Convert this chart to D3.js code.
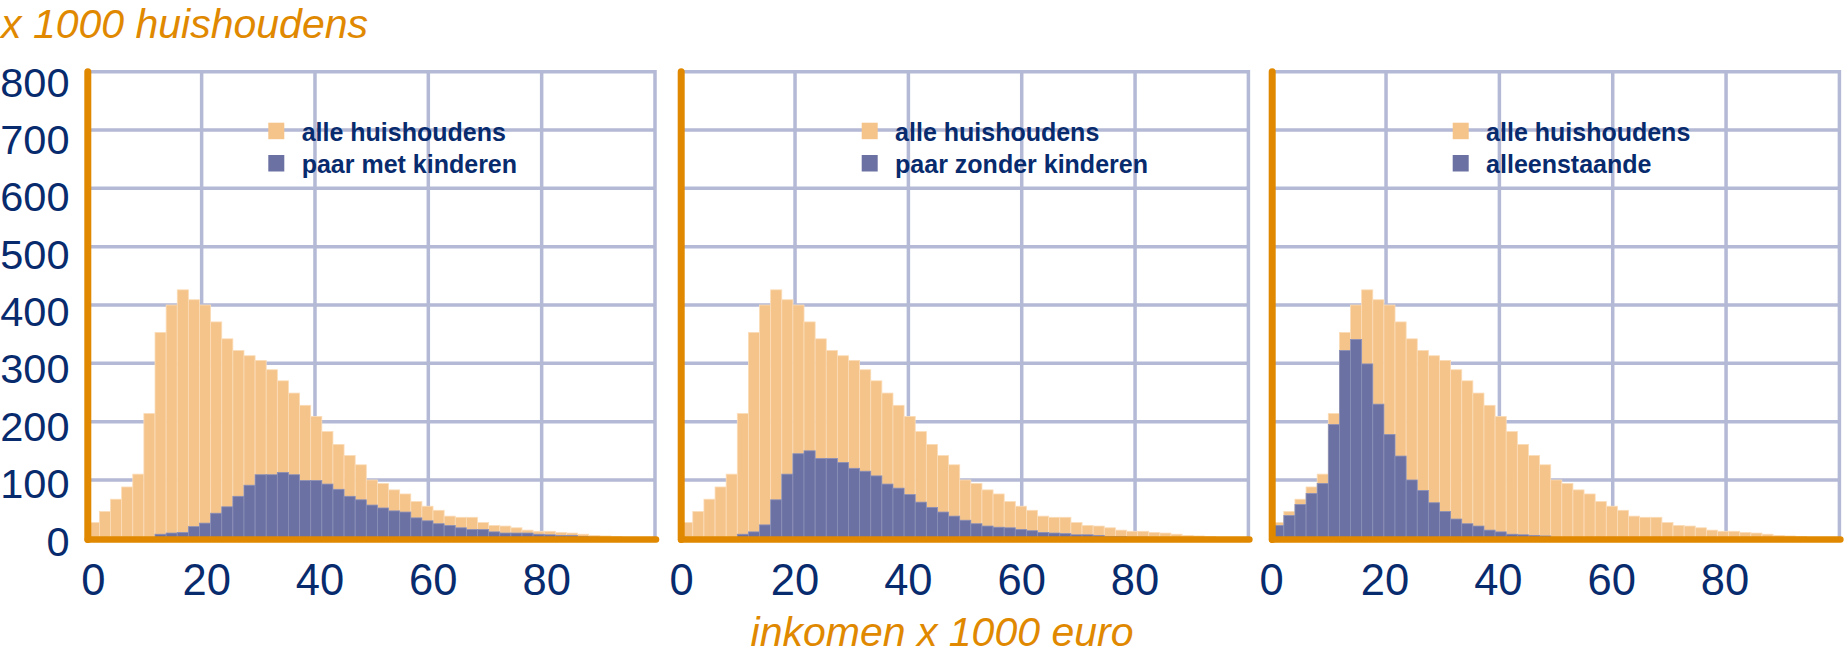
<!DOCTYPE html>
<html>
<head>
<meta charset="utf-8">
<script src="https://cdn.jsdelivr.net/npm/d3@7/dist/d3.min.js"></script>
<style>
  html, body { margin: 0; padding: 0; background: #ffffff; }
  svg { display: block; font-family: "Liberation Sans", Arial, sans-serif; }
</style>
</head>
<body>
<svg id="chart" width="1844" height="655"></svg>
<script>
// ---- data (x 1000 huishoudens per inkomensklasse van 2000 euro) ----
const binStarts = [0,2,4,6,8,10,12,14,16,18,20,22,24,26,28,30,32,34,36,38,40,42,44,46,48,50,52,54,56,58,60,62,64,66,68,70,72,74,76,78,80,82,84,86,88,90,92,94];
const binWidth = 2;
const alleHuishoudens = [27,46,67,88,110,214,353,400,426,409,400,371,342,322,313,305,289,270,249,228,209,183,161,142,126,100,94,83,76,63,55,48,38,36,36,27,22,21,18,14,12,12,10,9,7,5,4,3];
const paarMetKinderen = [0,0,0,0,0,0,7,9,10,20,26,43,54,72,91,109,109,113,109,99,99,93,84,72,66,57,52,47,45,35,30,25,22,18,15,15,11,9,9,9,7,6,5,5,3,2];
const paarZonderKinderen = [0,0,0,0,0,7,11,23,66,110,145,150,137,137,130,120,115,107,93,86,75,62,53,45,38,31,25,21,19,18,15,13,10,9,8,6,6,5,3,3,2,2];
const alleenstaande = [22,39,58,77,94,195,322,341,299,230,178,141,100,82,61,46,33,25,21,14,11,7,6,5,4];
const seriesNames = ["alle huishoudens", "paar met kinderen", "paar zonder kinderen", "alleenstaande"];
const xTicks = [0, 20, 40, 60, 80];
const xGrid = [20, 40, 60, 80, 100];
const yTicks = [0, 100, 200, 300, 400, 500, 600, 700, 800];
const yTitle = "x 1000 huishoudens";
const xTitle = "inkomen x 1000 euro";

// ---- styles ----
const C = {
  light: "#f5c48a", lightStroke: "#fbdcb8",
  dark: "#6b72a3", darkStroke: "#8b90b9",
  grid: "#b4b9d5", axis: "#e08900", navy: "#082b6e", orange: "#e08900"
};

const svg = d3.select("#chart");
const panelLefts = [88.3, 681.7, 1272.7];
const panelW = 566.7;
const xLabelShift = [5, 0, -1];
const barStep = 11.12; // px per bin as drawn in the original

const y = d3.scaleLinear().domain([0, 800]).range([538.3, 71.7]);
const yLabel = d3.scaleLinear().domain([0, 800]).range([555.5, 96.5]);

const panels = [
  { sub: paarMetKinderen, name: seriesNames[1] },
  { sub: paarZonderKinderen, name: seriesNames[2] },
  { sub: alleenstaande, name: seriesNames[3] }
];

panels.forEach((p, pi) => {
  const left = panelLefts[pi];
  const x = d3.scaleLinear().domain([0, 100]).range([left, left + panelW]);
  // bars are laid out on a slightly narrower scale than the grid in the original
  const xb = d3.scaleLinear().domain([0, 100]).range([left, left + barStep * 50]);
  const g = svg.append("g");

  // grid
  g.selectAll(".hg").data(yTicks.filter(d => d > 0)).join("line")
    .attr("x1", x(0)).attr("x2", x(100))
    .attr("y1", d => y(d)).attr("y2", d => y(d))
    .attr("stroke", C.grid).attr("stroke-width", 3.5);
  g.selectAll(".vg").data(xGrid).join("line")
    .attr("x1", d => x(d)).attr("x2", d => x(d))
    .attr("y1", y(800) - 1.75).attr("y2", y(0))
    .attr("stroke", C.grid).attr("stroke-width", 3.5);

  // all households
  g.append("g").selectAll("rect").data(alleHuishoudens).join("rect")
    .attr("x", (d, i) => xb(binStarts[i]))
    .attr("width", (d, i) => xb(binStarts[i] + binWidth) - xb(binStarts[i]))
    .attr("y", d => y(d))
    .attr("height", d => y(0) - y(d))
    .attr("fill", C.light).attr("stroke", C.lightStroke).attr("stroke-width", 0.8);

  // subgroup
  g.append("g").selectAll("rect").data(p.sub).join("rect")
    .attr("x", (d, i) => xb(binStarts[i]))
    .attr("width", (d, i) => xb(binStarts[i] + binWidth) - xb(binStarts[i]))
    .attr("y", d => y(d))
    .attr("height", d => y(0) - y(d))
    .attr("fill", C.dark).attr("stroke", C.darkStroke).attr("stroke-width", d => d > 0 ? 0.8 : 0);

  // axes
  g.append("line").attr("x1", x(0) - 0.5).attr("x2", x(0) - 0.5)
    .attr("y1", y(800)).attr("y2", y(0) + 1.2)
    .attr("stroke", C.axis).attr("stroke-width", 7).attr("stroke-linecap", "round");
  g.append("line").attr("x1", x(0) - 0.5).attr("x2", x(100) + 1)
    .attr("y1", y(0) + 1.2).attr("y2", y(0) + 1.2)
    .attr("stroke", C.axis).attr("stroke-width", 6.5).attr("stroke-linecap", "round");

  // x tick labels
  g.selectAll(".xt").data(xTicks).join("text")
    .attr("x", d => x(d) + xLabelShift[pi]).attr("y", 595)
    .attr("text-anchor", "middle").attr("font-size", 43.5)
    .attr("fill", C.navy).text(d => d);

  // legend
  const lg = g.append("g");
  const items = [{ t: seriesNames[0], c: C.light }, { t: p.name, c: C.dark }];
  items.forEach((it, k) => {
    lg.append("rect").attr("x", left + 180).attr("y", 122.7 + k * 32.3)
      .attr("width", 16).attr("height", 16.5).attr("fill", it.c);
    lg.append("text").attr("x", left + 213.4).attr("y", 140.8 + k * 32.3)
      .attr("font-size", 25).attr("font-weight", "bold")
      .attr("fill", C.navy).text(it.t);
  });
});

// y tick labels (left panel only)
svg.append("g").selectAll("text").data(yTicks).join("text")
  .attr("x", 69.5).attr("y", d => yLabel(d))
  .attr("text-anchor", "end").attr("font-size", 41.5)
  .attr("fill", C.navy).text(d => d);

// titles
svg.append("text").attr("x", 1).attr("y", 37.5)
  .attr("font-size", 41).attr("font-style", "italic")
  .attr("fill", C.orange).text(yTitle);
svg.append("text").attr("x", 942).attr("y", 646)
  .attr("text-anchor", "middle")
  .attr("font-size", 41).attr("font-style", "italic")
  .attr("fill", C.orange).text(xTitle);
</script>
</body>
</html>
